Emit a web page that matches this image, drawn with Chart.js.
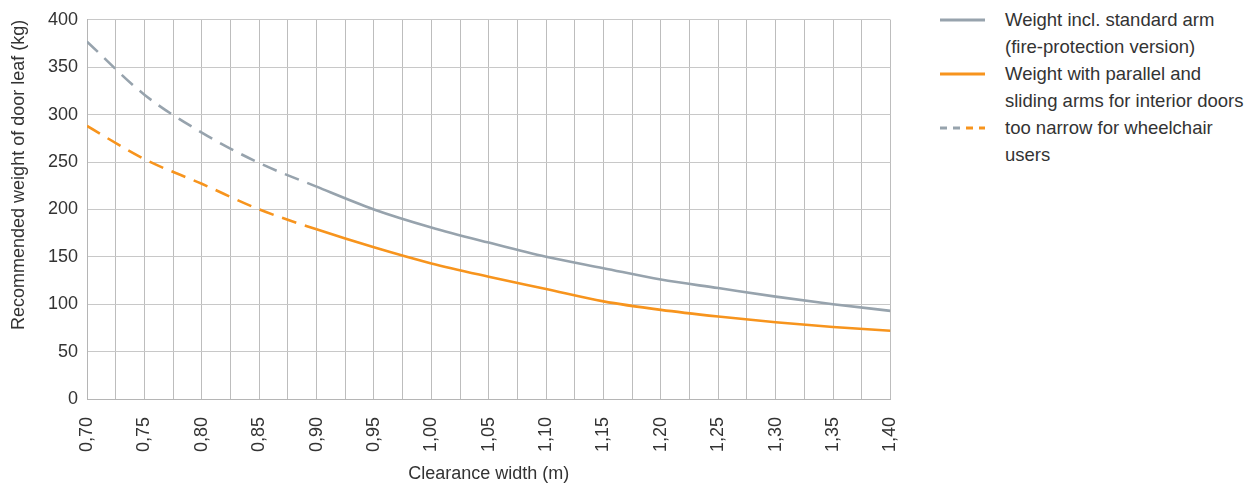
<!DOCTYPE html>
<html>
<head>
<meta charset="utf-8">
<script src="https://cdn.jsdelivr.net/npm/chart.js@4/dist/chart.umd.min.js"></script>
<style>
  html, body { margin: 0; padding: 0; background: #fff; }
  body { width: 1253px; height: 485px; position: relative; overflow: hidden; font-family: "Liberation Sans", Arial, sans-serif; }
  #c { position: absolute; left: 0; top: 0; }
  #legend { position: absolute; left: 940px; top: 6px; width: 313px; color: #333; font-size: 18.5px; line-height: 27px; white-space: nowrap; }
  .item { display: flex; align-items: flex-start; }
  .item svg { flex: 0 0 auto; margin-top: 12px; margin-right: 20px; }
</style>
</head>
<body>
<canvas id="c" width="930" height="485"></canvas>
<div id="legend"></div>
<script>
// ---- data ----
const widths = [0.70,0.75,0.80,0.85,0.90,0.95,1.00,1.05,1.10,1.15,1.20,1.25,1.30,1.35,1.40];
const standardArm = [377,321,281,249,224,200,181,165,150,138,126,117,108,100,93];
const parallelArm = [288,253,227,200,179,160,143,129,116,103,94,87,81,76,72];
const xGridValues = [0.70,0.725,0.75,0.775,0.80,0.825,0.85,0.875,0.90,0.925,0.95,0.975,1.00,1.025,1.05,1.075,1.10,1.125,1.15,1.175,1.20,1.225,1.25,1.275,1.30,1.325,1.35,1.375,1.40];
const xTickLabels = ["0,70","0,75","0,80","0,85","0,90","0,95","1,00","1,05","1,10","1,15","1,20","1,25","1,30","1,35","1,40"];
const wheelchairLimit = 0.90;
const seriesNames = ["Weight incl. standard arm (fire-protection version)", "Weight with parallel and sliding arms for interior doors"];
const legendTexts = [["Weight incl. standard arm","(fire-protection version)"],["Weight with parallel and","sliding arms for interior doors"],["too narrow for wheelchair","users"]];

const GRAY = '#97a3ad';
const ORANGE = '#f7941d';
const DASH = [15, 9];
const FONT = "'Liberation Sans', Arial, sans-serif";
const TXT = '#333';

function toPts(ys) { return widths.map((w, i) => ({x: w, y: ys[i]})); }
const dashSeg = { borderDash: ctx => (ctx.p1.parsed.x <= wheelchairLimit + 1e-9 ? DASH : undefined) };

new Chart(document.getElementById('c'), {
  type: 'line',
  data: {
    datasets: [
      { label: seriesNames[0], data: toPts(standardArm), borderColor: GRAY, borderWidth: 2.6, pointRadius: 0, cubicInterpolationMode: 'monotone', segment: dashSeg, fill: false },
      { label: seriesNames[1], data: toPts(parallelArm), borderColor: ORANGE, borderWidth: 2.6, pointRadius: 0, cubicInterpolationMode: 'monotone', segment: dashSeg, fill: false }
    ]
  },
  options: {
    responsive: false,
    animation: false,
    layout: { padding: { top: 18, right: 12, left: 8, bottom: 0 } },
    plugins: { legend: { display: false }, tooltip: { enabled: false } },
    scales: {
      x: {
        type: 'linear', min: 0.70, max: 1.40,
        afterBuildTicks: s => { s.ticks = xGridValues.map(v => ({ value: v })); },
        afterFit: s => { s.height = 86; },
        ticks: {
          autoSkip: false, minRotation: 90, maxRotation: 90, padding: 18,
          color: TXT, font: { family: FONT, size: 18 },
          callback: (v, i) => (i % 2 === 0 ? xTickLabels[i / 2] : '')
        },
        grid: { color: '#bdbdbd', lineWidth: 1, drawTicks: false },
        border: { color: '#b5b5b5' },
        title: { display: true, text: 'Clearance width (m)', color: TXT, font: { family: FONT, size: 18 }, padding: { top: 2, bottom: 0 } }
      },
      y: {
        min: 0, max: 400,
        afterFit: s => { s.width = 79; },
        ticks: { stepSize: 50, padding: 9, color: TXT, font: { family: FONT, size: 18 } },
        grid: { color: '#c8c8c8', lineWidth: 1, drawTicks: false },
        border: { color: '#b5b5b5' },
        title: { display: true, align: 'end', text: 'Recommended weight of door leaf (kg)', color: TXT, font: { family: FONT, size: 18 }, padding: { top: 0, bottom: 4 } }
      }
    }
  }
});

// ---- HTML legend ----
const leg = document.getElementById('legend');
const samples = [
  `<svg width="45" height="4"><line x1="0" y1="2" x2="45" y2="2" stroke="${GRAY}" stroke-width="3"/></svg>`,
  `<svg width="45" height="4"><line x1="0" y1="2" x2="45" y2="2" stroke="${ORANGE}" stroke-width="3"/></svg>`,
  `<svg width="45" height="4"><line x1="0" y1="2" x2="7" y2="2" stroke="${GRAY}" stroke-width="3"/><line x1="13" y1="2" x2="20" y2="2" stroke="${GRAY}" stroke-width="3"/><line x1="26" y1="2" x2="33" y2="2" stroke="${ORANGE}" stroke-width="3"/><line x1="39" y1="2" x2="45" y2="2" stroke="${ORANGE}" stroke-width="3"/></svg>`
];
legendTexts.forEach((lines, i) => {
  const d = document.createElement('div');
  d.className = 'item';
  d.innerHTML = samples[i] + '<div>' + lines.join('<br>') + '</div>';
  leg.appendChild(d);
});
</script>
</body>
</html>
